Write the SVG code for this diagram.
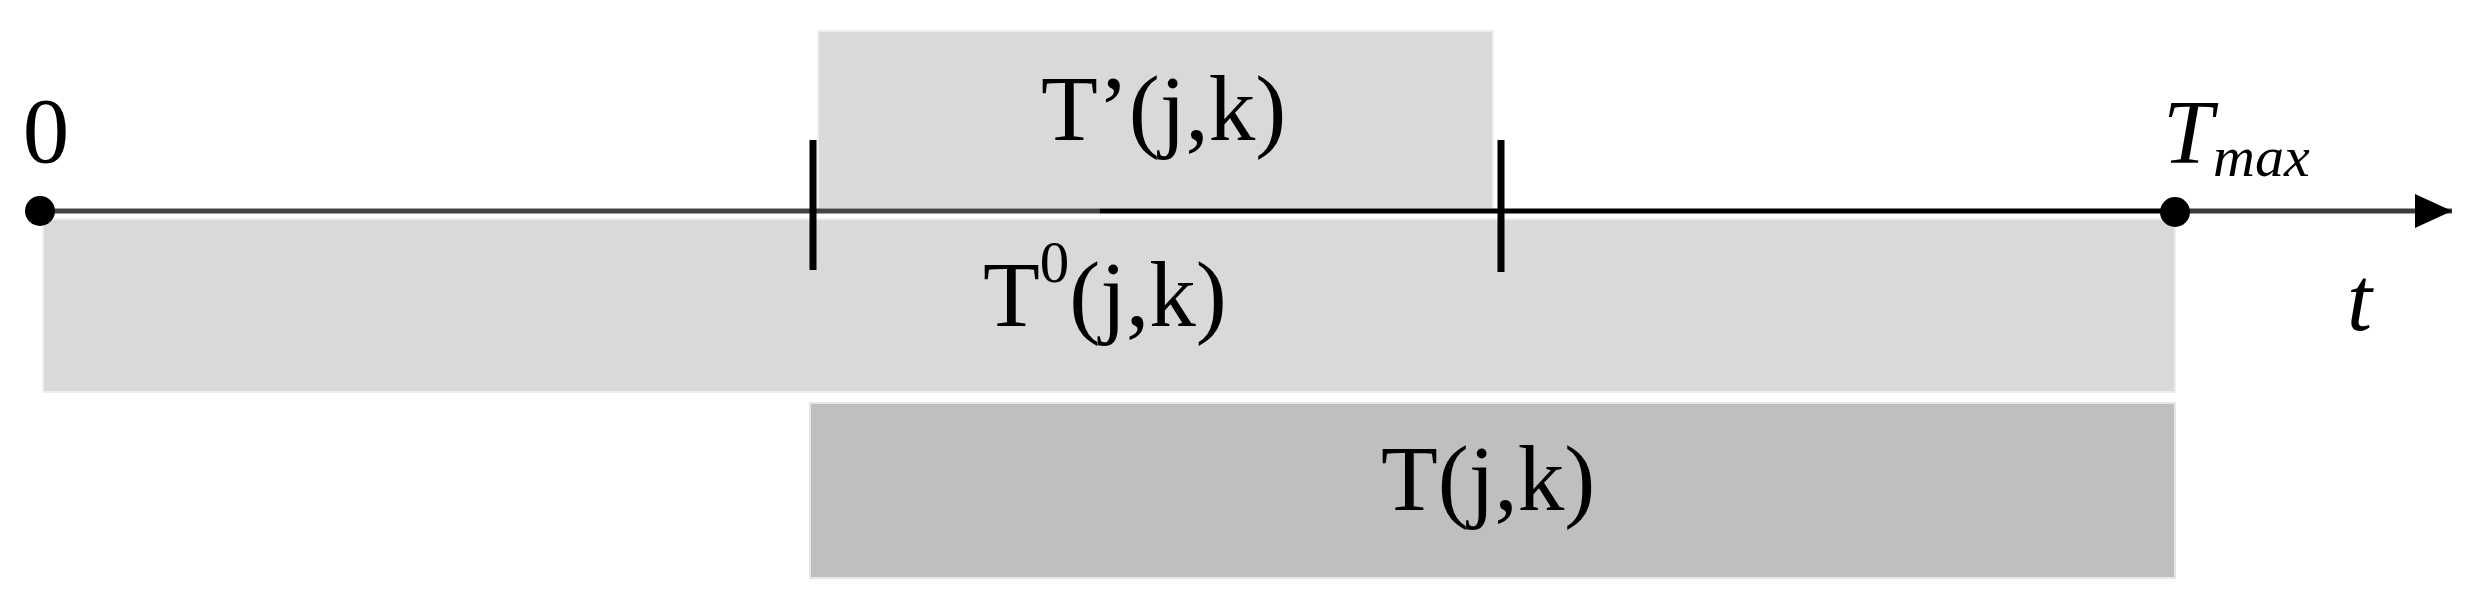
<svg xmlns="http://www.w3.org/2000/svg" width="2470" height="605" viewBox="0 0 2470 605">
  <style>
    .lbl { font-family: "Liberation Serif", "Times New Roman", serif; fill: #000; }
    .it { font-style: italic; }
    .bar-light { fill: #d9d9d9; stroke: #eceef2; stroke-width: 2; }
    .bar-dark { fill: #bfbfbf; stroke: #e6e6e6; stroke-width: 2; }
    .tick { stroke: #000; stroke-width: 7; }
    .dot { fill: #000; }
  </style>
  <defs>
    <marker id="arrow" markerUnits="userSpaceOnUse" markerWidth="40" markerHeight="36" refX="37" refY="17" orient="auto">
      <path d="M0,0 L37,17 L0,34 Z" fill="#000"/>
    </marker>
  </defs>
  <rect width="2470" height="605" fill="#fff"/>

  <g id="bar-T0">
    <rect class="bar-light" x="43" y="219" width="2132" height="173"/>
    <text class="lbl" x="983" y="326" font-size="93">T<tspan font-size="59" dy="-44">0</tspan><tspan dy="44">(j,k)</tspan></text>
  </g>

  <g id="bar-Tprime">
    <rect class="bar-light" x="818" y="31" width="675" height="178"/>
    <text class="lbl" x="1041" y="140" font-size="93">T’(j,k)</text>
  </g>

  <g id="bar-T">
    <rect class="bar-dark" x="810" y="403" width="1365" height="175"/>
    <text class="lbl" x="1381" y="510" font-size="93">T(j,k)</text>
  </g>

  <g id="connectors">
    <line x1="40" y1="211" x2="1100" y2="211" stroke="#444" stroke-width="5"/>
    <line x1="1100" y1="211" x2="2175" y2="211" stroke="#000" stroke-width="5"/>
    <line x1="2175" y1="211" x2="2452" y2="211" stroke="#3a3a3a" stroke-width="5" marker-end="url(#arrow)"/>
    <line class="tick" x1="813" y1="140" x2="813" y2="270"/>
    <line class="tick" x1="1501" y1="140" x2="1501" y2="272"/>
  </g>

  <g id="point-0">
    <circle class="dot" cx="40" cy="211" r="15"/>
    <text class="lbl" x="46" y="162" font-size="93" text-anchor="middle">0</text>
  </g>

  <g id="point-Tmax">
    <circle class="dot" cx="2175" cy="212" r="15"/>
    <text class="lbl it" x="2163" y="163" font-size="90">T<tspan font-size="58" dy="13">max</tspan></text>
  </g>

  <g id="axis-label">
    <text class="lbl it" x="2347" y="330" font-size="90">t</text>
  </g>
</svg>
